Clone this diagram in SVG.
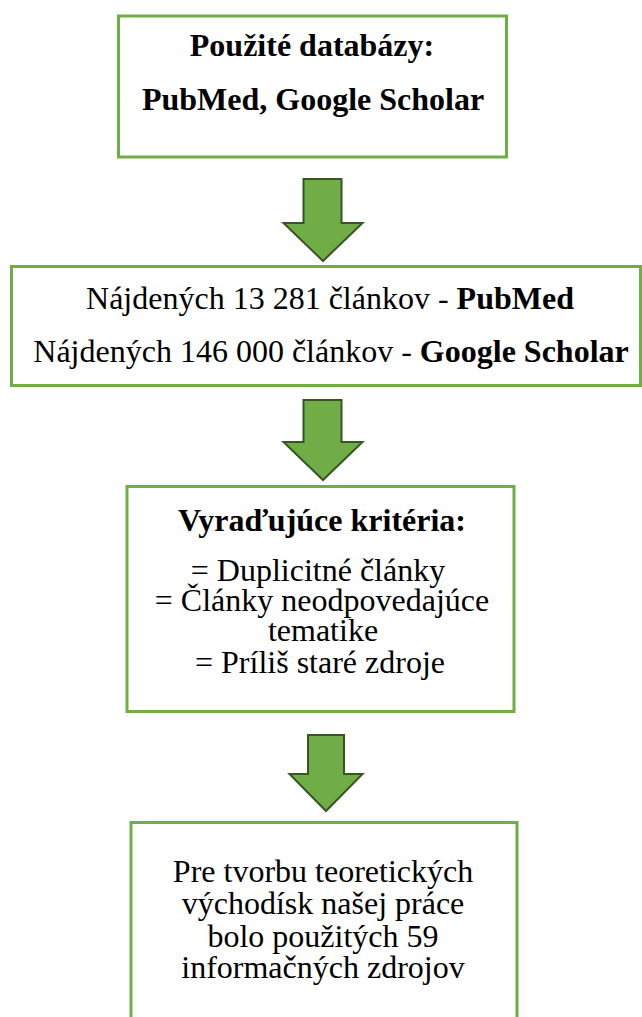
<svg xmlns="http://www.w3.org/2000/svg" width="642" height="1017" viewBox="0 0 642 1017">
  <style>
    .box { fill: #ffffff; stroke: #70AD47; stroke-width: 3; }
    .arrow { fill: #70AD47; stroke: #375623; stroke-width: 2; stroke-linejoin: miter; }
    text { font-family: "Liberation Serif", "Times New Roman", serif; font-size: 32px; fill: #000000; text-anchor: middle; }
    .b { font-weight: bold; }
  </style>
  <rect width="642" height="1017" fill="#ffffff"/>
  <g id="node-databazy">
    <rect class="box" x="118.5" y="16" width="388" height="141"/>
    <text class="b" x="312" y="56">Použité databázy:</text>
    <text class="b" x="313" y="110">PubMed, Google Scholar</text>
  </g>
  <g id="node-najdenych">
    <rect class="box" x="11.5" y="266.5" width="629" height="119"/>
    <text x="330" y="309">Nájdených 13 281 článkov - <tspan class="b">PubMed</tspan></text>
    <text x="331" y="362">Nájdených 146 000 článkov - <tspan class="b">Google Scholar</tspan></text>
  </g>
  <g id="node-kriteria">
    <rect class="box" x="127" y="486.5" width="387" height="225"/>
    <text class="b" x="322" y="531">Vyraďujúce kritéria:</text>
    <text x="318" y="581">= Duplicitné články</text>
    <text x="322" y="611">= Články neodpovedajúce</text>
    <text x="323" y="641">tematike</text>
    <text x="320" y="673">= Príliš staré zdroje</text>
  </g>
  <g id="node-zdroje">
    <rect class="box" x="131" y="822.5" width="386" height="220"/>
    <text x="323" y="882">Pre tvorbu teoretických</text>
    <text x="323" y="914">východísk našej práce</text>
    <text x="323" y="947">bolo použitých 59</text>
    <text x="323" y="978">informačných zdrojov</text>
  </g>
  <g id="connectors">
    <polygon class="arrow" points="303.5,179 341.5,179 341.5,223 362.5,223 323,261 283.5,223 303.5,223"/>
    <polygon class="arrow" points="303.5,400 341.5,400 341.5,442 362.5,442 323,480 283.5,442 303.5,442"/>
    <polygon class="arrow" points="308,735 344,735 344,774 362.5,774 326,811 289.5,774 308,774"/>
  </g>
</svg>
